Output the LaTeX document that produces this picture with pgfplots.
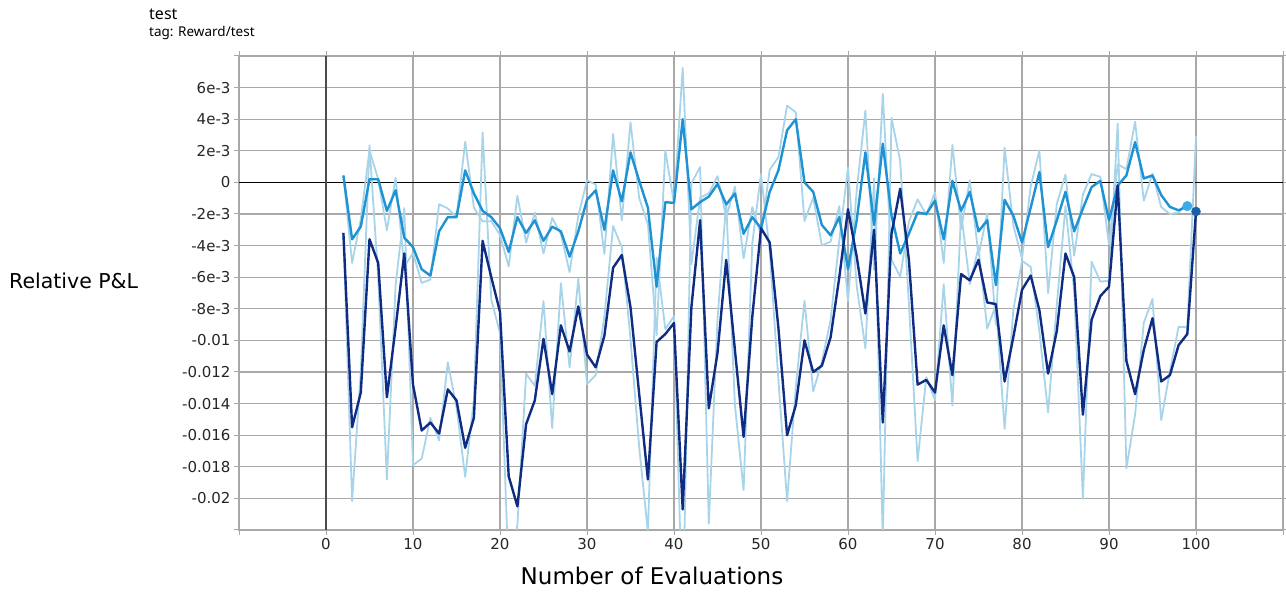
\documentclass[border=0pt]{standalone}
\usepackage{fontspec}
\setmainfont{DejaVu Sans}
\newfontfamily\titlefont{Noto Sans}
\usepackage{pgfplots}
\pgfplotsset{compat=1.18}
\usepackage{pgfplotstable}

\definecolor{upc}{RGB}{30,146,210}
\definecolor{dnc}{RGB}{16,44,130}
\definecolor{rawc}{RGB}{168,212,234}
\definecolor{gridc}{RGB}{168,168,168}
\definecolor{updot}{RGB}{60,172,230}
\definecolor{dndot}{RGB}{24,96,170}

\pgfplotstableread{
x u ur
2 0.44 0.44
3 -3.6 -5.1
4 -2.8 -2.31
5 0.2 2.04
6 0.2 0.2
7 -1.8 -3.03
8 -0.5 0.30
9 -3.5 -5.34
10 -4.1 -4.47
11 -5.5 -6.36
12 -5.9 -6.15
13 -3.1 -1.38
14 -2.2 -1.65
15 -2.2 -2.2
16 0.76 2.57
17 -0.7 -1.6
18 -1.8 -2.47
19 -2.2 -2.45
20 -2.9 -3.33
21 -4.4 -5.32
22 -2.2 -0.85
23 -3.2 -3.81
24 -2.4 -1.91
25 -3.7 -4.5
26 -2.8 -2.25
27 -3.1 -3.28
28 -4.7 -5.68
29 -3.1 -2.12
30 -1.1 0.13
31 -0.5 -0.13
32 -3.0 -4.53
33 0.76 3.07
34 -1.2 -2.4
35 1.9 3.8
36 0.1 -1.0
37 -1.6 -2.64
38 -6.6 -9.67
39 -1.25 2.03
40 -1.3 -1.33
41 4.0 7.25
42 -1.7 -5.19
43 -1.25 -0.97
44 -0.9 -0.69
45 -0.1 0.39
46 -1.4 -2.2
47 -0.7 -0.27
48 -3.25 -4.81
49 -2.2 -1.56
50 -2.9 -3.33
51 -0.6 0.81
52 0.76 1.59
53 3.3 4.86
54 4.0 4.43
55 0.0 -2.45
56 -0.6 -0.97
57 -2.7 -3.99
58 -3.35 -3.75
59 -2.2 -1.5
60 -5.5 -7.52
61 -2.4 -0.5
62 1.9 4.54
63 -2.7 -5.52
64 2.45 5.61
65 -2.1 -4.89
66 -4.5 -5.97
67 -3.25 -2.48
68 -1.9 -1.07
69 -2.0 -2.06
70 -1.15 -0.63
71 -3.6 -5.1
72 0.1 2.37
73 -1.8 -2.96
74 -0.6 0.14
75 -3.1 -4.63
76 -2.4 -1.97
77 -6.5 -9.0
78 -1.1 2.2
79 -2.1 -2.71
80 -3.8 -4.84
81 -1.6 -0.25
82 0.65 2.03
83 -4.1 -7.01
84 -2.4 -1.36
85 -0.6 0.5
86 -3.1 -4.63
87 -1.65 -0.76
88 -0.3 0.53
89 0.1 0.35
90 -2.4 -3.93
91 -0.2 1.15
92 0.44 0.83
93 2.55 3.84
94 0.25 -1.16
95 0.44 0.56
96 -0.8 -1.56
97 -1.55 -2.01
98 -1.77 -1.9
99 -1.5 -1.33
}\uptable

\pgfplotstableread{
x d dr
2 -3.2 -3.2
3 -15.5 -20.17
4 -13.3 -11.95
5 -3.6 2.35
6 -5.1 -6.02
7 -13.6 -18.81
8 -9.2 -6.5
9 -4.5 -1.62
10 -12.8 -17.89
11 -15.7 -17.48
12 -15.2 -14.9
13 -15.9 -16.33
14 -13.1 -11.38
15 -13.8 -14.23
16 -16.8 -18.64
17 -14.9 -13.74
18 -3.7 3.17
19 -6.0 -7.41
20 -8.2 -9.55
21 -18.6 -24.97
22 -20.5 -21.66
23 -15.3 -12.11
24 -13.8 -12.88
25 -9.9 -7.51
26 -13.4 -15.55
27 -9.05 -6.38
28 -10.7 -11.71
29 -7.85 -6.1
30 -10.9 -12.77
31 -11.7 -12.19
32 -9.7 -8.47
33 -5.4 -2.76
34 -4.6 -4.11
35 -7.9 -9.92
36 -13.4 -16.77
37 -18.8 -22.11
38 -10.1 -4.77
39 -9.6 -9.29
40 -8.9 -8.47
41 -20.7 -27.93
42 -7.9 -0.05
43 -2.4 0.97
44 -14.3 -21.6
45 -10.8 -8.65
46 -4.9 -1.28
47 -10.6 -14.09
48 -16.1 -19.47
49 -8.5 -3.84
50 -2.9 0.53
51 -3.8 -4.35
52 -9.2 -12.51
53 -16.0 -20.17
54 -14.1 -12.94
55 -10.0 -7.49
56 -12.0 -13.23
57 -11.6 -11.36
58 -9.8 -8.7
59 -6.0 -3.67
60 -1.7 0.94
61 -4.7 -6.54
62 -8.3 -10.51
63 -3.0 0.25
64 -15.2 -22.68
65 -3.25 4.08
66 -0.4 1.35
67 -4.9 -7.66
68 -12.8 -17.64
69 -12.5 -12.32
70 -13.3 -13.79
71 -9.05 -6.45
72 -12.2 -14.13
73 -5.8 -1.88
74 -6.2 -6.45
75 -4.9 -4.1
76 -7.6 -9.26
77 -7.7 -7.76
78 -12.6 -15.6
79 -9.8 -8.08
80 -6.8 -4.96
81 -5.9 -5.35
82 -8.1 -9.45
83 -12.1 -14.55
84 -9.4 -7.75
85 -4.5 -1.5
86 -6.0 -6.92
87 -14.7 -20.03
88 -8.7 -5.02
89 -7.2 -6.28
90 -6.6 -6.23
91 -0.2 3.72
92 -11.3 -18.1
93 -13.4 -14.69
94 -10.6 -8.88
95 -8.6 -7.38
96 -12.6 -15.05
97 -12.2 -11.96
98 -10.3 -9.14
99 -9.6 -9.17
100 -1.84 2.92
}\dntable

\begin{document}
\begin{tikzpicture}[x=1pt,y=1pt]
\path[use as bounding box] (0,0) rectangle (1286,592);
\begin{axis}[
  at={(239pt,62pt)}, anchor=south west,
  width=1044pt, height=474pt, scale only axis,
  xmin=-10, xmax=110, ymin=-22, ymax=8,
  xtick={-10,0,10,...,110},
  xticklabels={,0,10,20,30,40,50,60,70,80,90,100,},
  ytick={-22,-20,...,8},
  yticklabels={,-0.02,-0.018,-0.016,-0.014,-0.012,-0.01,-8e-3,-6e-3,-4e-3,-2e-3,0,2e-3,4e-3,6e-3,},
  grid=major,
  grid style={gridc, line width=1.3pt},
  axis line style={gridc, line width=1.3pt},
  tick align=outside, major tick length=5pt,
  tick style={gridc, line width=1pt},
  ticklabel style={font=\fontsize{15}{15}\selectfont, text=black!85},
]
\draw[black, line width=1.4pt] (axis cs:-10,0) -- (axis cs:110,0);
\draw[black!70, line width=1.3pt] (axis cs:0,-22) -- (axis cs:0,8);
\addplot[rawc, line width=1.8pt, line join=round] table[x=x,y=ur]{\uptable};
\addplot[rawc, line width=1.8pt, line join=round] table[x=x,y=dr]{\dntable};
\addplot[upc, line width=2.4pt, line join=round] table[x=x,y=u]{\uptable};
\addplot[dnc, line width=2.4pt, line join=round] table[x=x,y=d]{\dntable};
\addplot[only marks, mark=*, mark size=4.8pt, color=updot] coordinates {(99,-1.5)};
\addplot[only marks, mark=*, mark size=4.5pt, color=dndot] coordinates {(100,-1.84)};
\end{axis}
\node[font=\fontsize{23}{23}\selectfont, anchor=base] at (652,7) {Number of Evaluations};
\node[font=\fontsize{20.5}{20.5}\selectfont, anchor=base west, inner sep=0pt] at (9,303) {Relative P\&L};
\node[font=\titlefont\fontsize{16}{16}\selectfont, anchor=base west, inner sep=0pt] at (149,572) {test};
\node[font=\titlefont\fontsize{13.5}{13.5}\selectfont, anchor=base west, inner sep=0pt] at (149,555) {tag: Reward/test};
\end{tikzpicture}
\end{document}
